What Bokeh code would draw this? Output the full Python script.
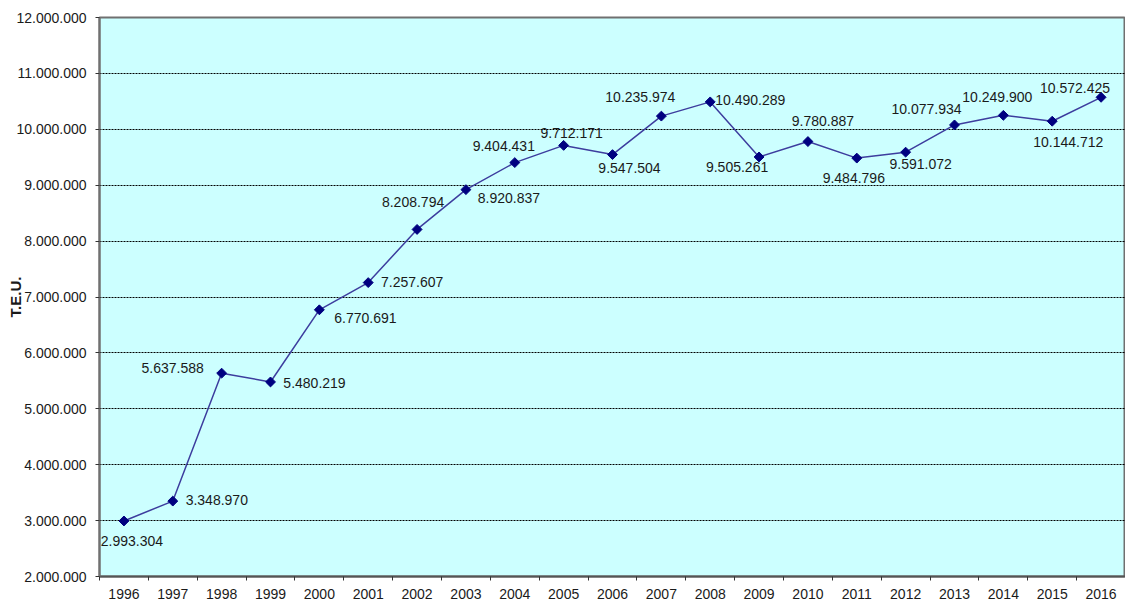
from math import pi
from bokeh.plotting import figure
from bokeh.models import ColumnDataSource, FixedTicker, Range1d
from bokeh.core.properties import value
from bokeh.embed import file_html
from bokeh.resources import INLINE

years = ["1996", "1997", "1998", "1999", "2000", "2001", "2002", "2003", "2004", "2005", "2006",
         "2007", "2008", "2009", "2010", "2011", "2012", "2013", "2014", "2015", "2016"]
teu = [2993304, 3348970, 5637588, 5480219, 6770691, 7257607, 8208794, 8920837, 9404431, 9712171,
       9547504, 10235974, 10490289, 9505261, 9780887, 9484796, 9591072, 10077934, 10249900,
       10144712, 10572425]
y_ticks = [2000000, 3000000, 4000000, 5000000, 6000000, 7000000, 8000000, 9000000, 10000000,
           11000000, 12000000]

# label placement (screen pixel offsets from each point)
lab_dx = [8, 44, -49, 44, 46, 44, -4, 43, -11, 8, 17, -21, 40, -22, 15, -3, 15, -28, -6, 16, -26]
lab_dy = [20, -1, -5, 1, 8, -1, -27, 8, -17, -12, 13, -19, -2, 10, -21, 20, 12, -16, -18, 21, -9]

def fmt(v):
    return f"{v:,}".replace(",", ".")

xs = list(range(len(years)))
src = ColumnDataSource(dict(x=xs, y=teu, lab=[fmt(v) for v in teu], dx=lab_dx, dy=lab_dy))

FONT = "Liberation Sans"

p = figure(width=1125, height=603, output_backend="svg", toolbar_location=None,
           x_range=Range1d(-0.5, len(years) - 0.5), y_range=Range1d(y_ticks[0], y_ticks[-1]),
           min_border_left=99, min_border_right=0, min_border_top=17, min_border_bottom=27)
p.background_fill_color = "#CCFFFF"
p.border_fill_color = "white"
p.outline_line_color = "#707070"
p.outline_line_width = 2

# x axis: labels at category centres, ticks at category boundaries
xt = FixedTicker(ticks=xs, minor_ticks=[i - 0.5 for i in range(len(years) + 1)])
p.xaxis.ticker = xt
p.xaxis.major_label_overrides = {i: y for i, y in enumerate(years)}
p.xaxis.major_tick_out = 0
p.xaxis.major_tick_in = 0
p.xaxis.minor_tick_out = 4
p.xaxis.minor_tick_in = 0
p.xaxis.minor_tick_line_color = "#333333"
p.xaxis.axis_line_color = "#555555"
p.xaxis.axis_line_width = 2
p.xaxis.major_label_standoff = 8
p.xaxis.major_label_text_font = FONT
p.xaxis.major_label_text_font_size = "14px"
p.xaxis.major_label_text_color = "#1a1a1a"

p.yaxis.ticker = FixedTicker(ticks=y_ticks, minor_ticks=[])
p.yaxis.major_label_overrides = {t: fmt(t) for t in y_ticks}
p.yaxis.major_tick_out = 4
p.yaxis.major_tick_in = 0
p.yaxis.major_tick_line_color = "#333333"
p.yaxis.axis_line_color = "#707070"
p.yaxis.axis_line_width = 2
p.yaxis.major_label_standoff = 9
p.yaxis.major_label_text_font = FONT
p.yaxis.major_label_text_font_size = "14px"
p.yaxis.major_label_text_color = "#1a1a1a"
p.yaxis.axis_label = "T.E.U."
p.yaxis.axis_label_text_font = FONT
p.yaxis.axis_label_text_font_size = "15px"
p.yaxis.axis_label_text_font_style = "bold"
p.yaxis.axis_label_text_color = "#1a1a1a"
p.yaxis.axis_label_standoff = -11

p.xgrid.grid_line_color = None
p.ygrid.grid_line_color = "black"
p.ygrid.grid_line_dash = "2 1"
p.ygrid.grid_line_width = 1

p.line("x", "y", source=src, line_color="#3d3d9e", line_width=1.5)
p.scatter("x", "y", source=src, marker="square", angle=pi / 4, size=7, fill_color="#000080",
          line_color="#000080")
p.text("x", "y", text="lab", source=src, x_offset="dx", y_offset="dy",
       text_font=value(FONT), text_font_size="14px", text_color="#1a1a1a",
       text_align="center", text_baseline="middle")

open("out.html", "w").write(file_html(p, INLINE))
